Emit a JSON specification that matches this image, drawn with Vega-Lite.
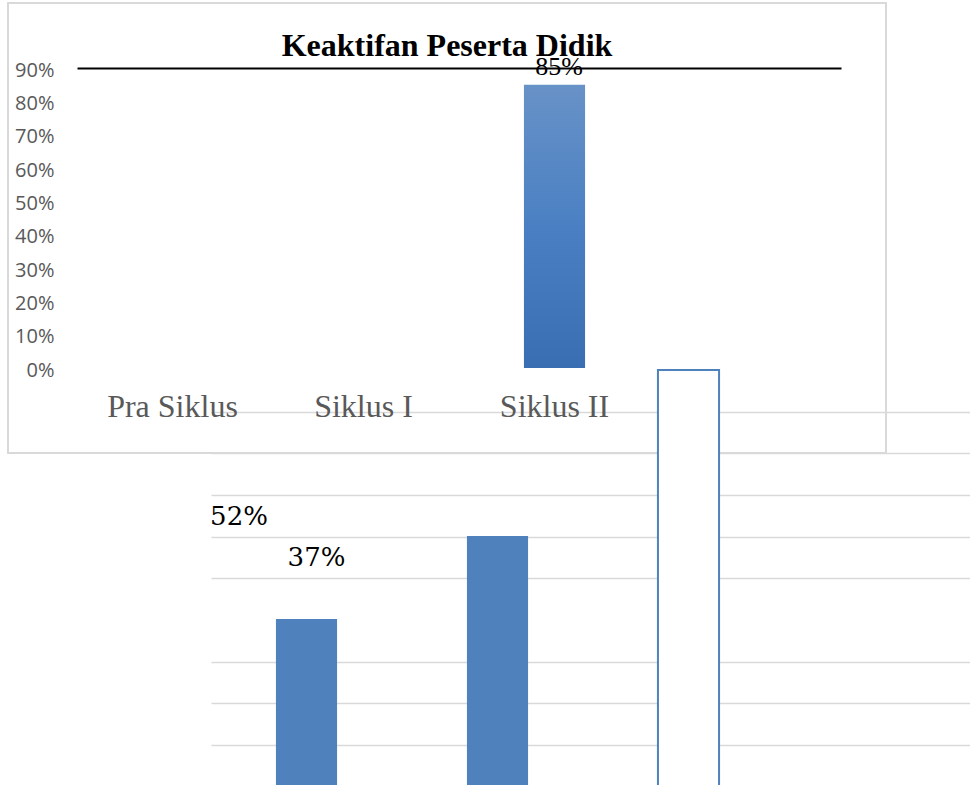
{
  "$schema": "https://vega.github.io/schema/vega-lite/v6.json",
  "width": 878,
  "height": 450,
  "autosize": {"type": "none"},
  "padding": {"left": 8, "top": 3, "right": 84, "bottom": 332},
  "background": "white",
  "config": {"view": {"stroke": "#d9d9d9", "strokeWidth": 2, "fill": "white"}},
  "title": {
    "text": "Keaktifan Peserta Didik",
    "font": "Liberation Serif",
    "fontSize": 32,
    "fontWeight": "bold",
    "color": "#000000",
    "anchor": "middle",
    "frame": "group",
    "baseline": "alphabetic",
    "offset": -85
  },
  "datasets": {
    "atas": [
      {"kategori": "Siklus II", "nilai": 0.85}
    ],
    "bawah": [
      {"kategori": "Pra Siklus", "nilai": 0.37},
      {"kategori": "Siklus I", "nilai": 0.52},
      {"kategori": "Siklus II", "nilai": 0.82}
    ]
  },
  "layer": [
    {
      "data": {"name": "atas"},
      "mark": {
        "type": "bar",
        "color": {
          "gradient": "linear",
          "x1": 0, "y1": 0, "x2": 0, "y2": 1,
          "stops": [
            {"offset": 0, "color": "#6892c7"},
            {"offset": 0.5, "color": "#4a80c3"},
            {"offset": 1, "color": "#3a6eb2"}
          ]
        }
      },
      "encoding": {
        "x": {
          "field": "kategori",
          "type": "nominal",
          "scale": {"domain": ["Pra Siklus", "Siklus I", "Siklus II", ""], "range": [69, 833], "paddingInner": 0.68, "paddingOuter": 0.34},
          "axis": {
            "orient": "bottom",
            "title": null,
            "domain": false,
            "ticks": false,
            "grid": false,
            "labelFont": "Liberation Serif",
            "labelFontSize": 32,
            "labelColor": "#595959",
            "labelPadding": 0,
            "labelBaseline": "alphabetic",
            "labelAngle": 0,
            "labelOverlap": false,
            "offset": -36.3
          }
        },
        "y": {
          "field": "nilai",
          "type": "quantitative",
          "scale": {"domain": [0, 0.9], "range": [365, 65], "nice": false},
          "axis": {
            "orient": "left",
            "values": [0, 0.1, 0.2, 0.3, 0.4, 0.5, 0.6, 0.7, 0.8, 0.9],
            "format": ".0%",
            "title": null,
            "domain": false,
            "ticks": false,
            "grid": false,
            "labelFont": "Open Sans",
            "labelFontSize": 20,
            "labelColor": "#595959",
            "labelPadding": 0,
            "labelOffset": 2,
            "offset": -46
          }
        }
      }
    },
    {
      "data": {"name": "atas"},
      "mark": {
        "type": "text",
        "font": "Liberation Serif",
        "fontSize": 26,
        "color": "#000000",
        "baseline": "alphabetic",
        "dx": 4.5,
        "dy": -10
      },
      "encoding": {
        "x": {
          "field": "kategori",
          "type": "nominal",
          "scale": {"domain": ["Pra Siklus", "Siklus I", "Siklus II", ""], "range": [69, 833], "paddingInner": 0.68, "paddingOuter": 0.34},
          "axis": {
            "orient": "top",
            "title": null,
            "labels": false,
            "ticks": false,
            "grid": false,
            "domain": true,
            "domainColor": "#000000",
            "domainWidth": 2,
            "offset": -65
          }
        },
        "y": {
          "field": "nilai",
          "type": "quantitative",
          "scale": {"domain": [0, 0.9], "range": [365, 65], "nice": false},
          "axis": null
        },
        "text": {"field": "nilai", "type": "quantitative", "format": ".0%"}
      }
    },
    {
      "data": {"name": "bawah"},
      "transform": [{"filter": "datum.kategori !== 'Siklus II'"}],
      "mark": {"type": "bar", "color": "#4f81bd"},
      "encoding": {
        "x": {
          "field": "kategori",
          "type": "nominal",
          "scale": {"domain": ["Pra Siklus", "Siklus I", "Siklus II", ""], "range": [203, 967], "paddingInner": 0.68, "paddingOuter": 0.34},
          "axis": null
        },
        "y": {
          "field": "nilai",
          "type": "quantitative",
          "scale": {"domain": [0, 1], "range": [820.7, 267.4], "nice": false, "zero": true},
          "axis": {
            "orient": "left",
            "grid": true,
            "values": [0.1422, 0.2187, 0.2928, 0.4446, 0.5187, 0.594, 0.6694, 0.7446],
            "labels": false,
            "ticks": false,
            "domain": false,
            "title": null,
            "gridColor": "#d9d9d9",
            "gridWidth": 1.5
          }
        }
      }
    },
    {
      "data": {"name": "bawah"},
      "transform": [{"filter": "datum.kategori === 'Siklus II'"}],
      "mark": {"type": "bar", "fill": "#ffffff", "stroke": "#4f81bd", "strokeWidth": 2},
      "encoding": {
        "x": {
          "field": "kategori",
          "type": "nominal",
          "scale": {"domain": ["Pra Siklus", "Siklus I", "Siklus II", ""], "range": [203, 967], "paddingInner": 0.68, "paddingOuter": 0.34},
          "axis": null
        },
        "y": {
          "field": "nilai",
          "type": "quantitative",
          "scale": {"domain": [0, 1], "range": [820.7, 267.4], "nice": false, "zero": true},
          "axis": null
        }
      }
    },
    {
      "data": {"name": "bawah"},
      "transform": [{"filter": "datum.kategori === 'Pra Siklus'"}],
      "mark": {"type": "text", "font": "DejaVu Serif", "fontSize": 26, "color": "#000000", "baseline": "alphabetic", "dx": 10, "dy": -53},
      "encoding": {
        "x": {
          "field": "kategori",
          "type": "nominal",
          "scale": {"domain": ["Pra Siklus", "Siklus I", "Siklus II", ""], "range": [203, 967], "paddingInner": 0.68, "paddingOuter": 0.34},
          "axis": null
        },
        "y": {
          "field": "nilai",
          "type": "quantitative",
          "scale": {"domain": [0, 1], "range": [820.7, 267.4], "nice": false, "zero": true},
          "axis": null
        },
        "text": {"field": "nilai", "type": "quantitative", "format": ".0%"}
      }
    },
    {
      "data": {"name": "bawah"},
      "transform": [{"filter": "datum.kategori === 'Siklus I'"}],
      "mark": {"type": "text", "font": "DejaVu Serif", "fontSize": 26, "color": "#000000", "baseline": "alphabetic", "dx": -258.5, "dy": -11},
      "encoding": {
        "x": {
          "field": "kategori",
          "type": "nominal",
          "scale": {"domain": ["Pra Siklus", "Siklus I", "Siklus II", ""], "range": [203, 967], "paddingInner": 0.68, "paddingOuter": 0.34},
          "axis": null
        },
        "y": {
          "field": "nilai",
          "type": "quantitative",
          "scale": {"domain": [0, 1], "range": [820.7, 267.4], "nice": false, "zero": true},
          "axis": null
        },
        "text": {"field": "nilai", "type": "quantitative", "format": ".0%"}
      }
    }
  ],
  "resolve": {"scale": {"x": "independent", "y": "independent"}}
}
